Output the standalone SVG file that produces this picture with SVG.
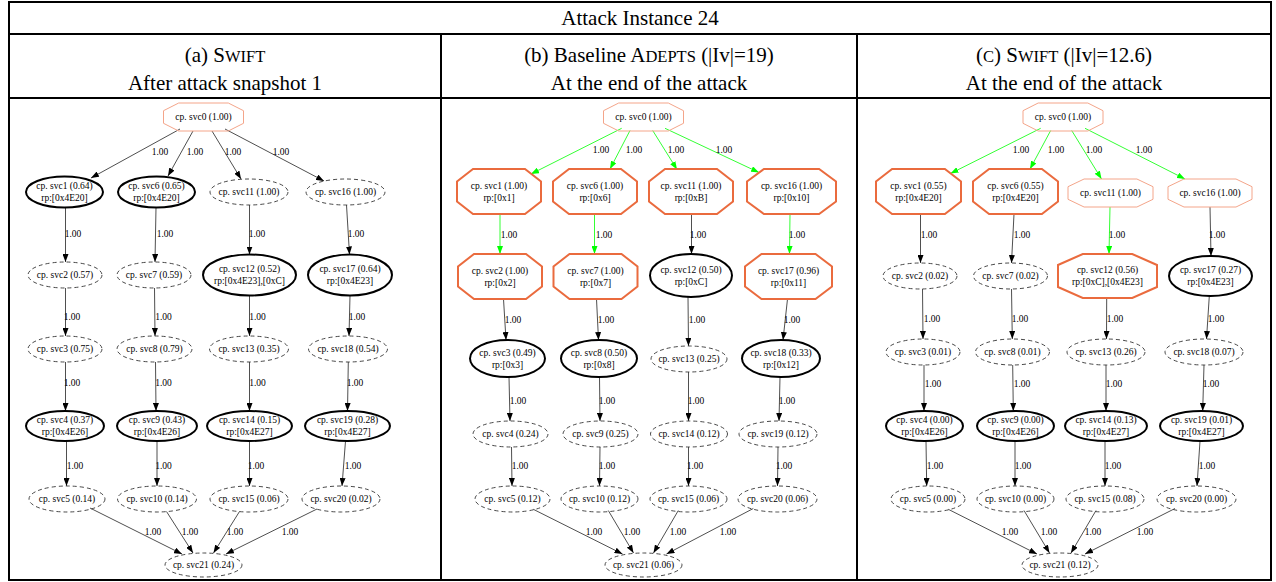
<svg xmlns="http://www.w3.org/2000/svg" width="1276" height="582" viewBox="0 0 1276 582">
<defs>
<marker id="ab" markerWidth="8" markerHeight="6" refX="8" refY="3" orient="auto" markerUnits="userSpaceOnUse"><path d="M0,0 L8,3 L0,6 z" fill="#000"/></marker>
<marker id="ag" markerWidth="8" markerHeight="6" refX="8" refY="3" orient="auto" markerUnits="userSpaceOnUse"><path d="M0,0 L8,3 L0,6 z" fill="#00ff00"/></marker>
</defs>
<style>
text{font-family:"Liberation Serif","Times New Roman",serif;fill:#000}
.n{font-size:9.5px;text-anchor:middle}
.h{font-size:21px;text-anchor:middle}
.sc{font-size:16.5px}
.dash{fill:none;stroke:#333;stroke-width:0.9;stroke-dasharray:4 3}
.bold{fill:none;stroke:#000;stroke-width:2}
.octL{fill:none;stroke:#f4a58a;stroke-width:1}
.octB{fill:none;stroke:#ea6b3e;stroke-width:2}
.e{stroke:#222;stroke-width:0.8;fill:none;marker-end:url(#ab)}
.g{stroke:#00ff00;stroke-width:0.8;fill:none;marker-end:url(#ag)}
.grid{stroke:#000;stroke-width:2;fill:none}
</style>
<rect width="1276" height="582" fill="#fff"/>
<g id="table">
<rect class="grid" x="9" y="2" width="1262" height="578"/>
<line class="grid" x1="9" y1="34" x2="1271" y2="34"/>
<line class="grid" x1="9" y1="98" x2="1271" y2="98"/>
<line class="grid" x1="441" y1="34" x2="441" y2="580"/>
<line class="grid" x1="857" y1="34" x2="857" y2="580"/>
<text class="h" x="640" y="25">Attack Instance 24</text>
<text class="h" x="225" y="62">(a) S<tspan class="sc">WIFT</tspan></text>
<text class="h" x="225" y="90">After attack snapshot 1</text>
<text class="h" x="649" y="62">(b) Baseline A<tspan class="sc">DEPTS</tspan> (|Iv|=19)</text>
<text class="h" x="649" y="90">At the end of the attack</text>
<text class="h" x="1064" y="62">(<tspan class="sc">C</tspan>) S<tspan class="sc">WIFT</tspan> (|Iv|=12.6)</text>
<text class="h" x="1064" y="90">At the end of the attack</text>
</g>

<g id="connectors">
<!-- panel a -->
<path class="e" d="M180,129 L91,178"/>
<path class="e" d="M193,131 L168,176"/>
<path class="e" d="M212,131 L241,179"/>
<path class="e" d="M225,129 L324,181"/>
<path class="e" d="M65.5,207.5 L65.5,262"/>
<path class="e" d="M65.5,288 L65.5,336"/>
<path class="e" d="M65.5,362 L65.5,411"/>
<path class="e" d="M66.5,441 L66.5,486"/>
<path class="e" d="M156,207.5 L155,262"/>
<path class="e" d="M154.5,288 L155,336"/>
<path class="e" d="M155.5,362 L156,411"/>
<path class="e" d="M157,441 L157,486"/>
<path class="e" d="M249.5,205 L249.5,254.5"/>
<path class="e" d="M249.5,295.5 L249.5,336"/>
<path class="e" d="M249.5,362 L249.5,411"/>
<path class="e" d="M249.5,441 L249.5,486"/>
<path class="e" d="M346.5,205 L349.5,254.5"/>
<path class="e" d="M350,295.5 L349,336"/>
<path class="e" d="M348.3,362 L347.5,411"/>
<path class="e" d="M345.5,441 L342,486"/>
<path class="e" d="M90,508 L182,554"/>
<path class="e" d="M166.5,511.5 L193,553"/>
<path class="e" d="M239.5,511.5 L213.5,553"/>
<path class="e" d="M317,509 L226,554"/>
<g class="n">
<text x="160" y="155.3">1.00</text><text x="195" y="155.3">1.00</text><text x="233" y="155.3">1.00</text><text x="281" y="155.3">1.00</text>
<text x="73" y="237.3">1.00</text><text x="165" y="237.3">1.00</text><text x="257" y="237.3">1.00</text><text x="356" y="237.3">1.00</text>
<text x="72" y="320.3">1.00</text><text x="163.5" y="320.3">1.00</text><text x="257.5" y="320.3">1.00</text><text x="357" y="320.3">1.00</text>
<text x="72" y="386.3">1.00</text><text x="163.5" y="386.3">1.00</text><text x="257.5" y="386.3">1.00</text><text x="355" y="386.3">1.00</text>
<text x="75" y="469.3">1.00</text><text x="163.5" y="469.3">1.00</text><text x="256" y="469.3">1.00</text><text x="353" y="469.3">1.00</text>
<text x="153" y="535.3">1.00</text><text x="190" y="535.3">1.00</text><text x="235" y="535.3">1.00</text><text x="290" y="535.3">1.00</text>
</g>
<!-- panel b -->
<path class="g" d="M621.7,128.3 L531,174"/>
<path class="g" d="M630,130.5 L610,169"/>
<path class="g" d="M652.7,130.5 L677,169.5"/>
<path class="g" d="M665,128.3 L759,172.5"/>
<path class="g" d="M500,214 L500,254"/>
<path class="g" d="M594.5,214 L594.5,254"/>
<path class="e" d="M691.5,214 L691.5,254"/>
<path class="g" d="M790,214 L789.5,254"/>
<path class="e" d="M503.5,299 L506,340"/>
<path class="e" d="M596.5,299 L598.5,340"/>
<path class="e" d="M688,297 L688.5,346"/>
<path class="e" d="M787.5,299 L783,340"/>
<path class="e" d="M509,377 L510,421"/>
<path class="e" d="M599.5,377 L600,421"/>
<path class="e" d="M688.5,372 L688.5,421"/>
<path class="e" d="M780,377 L779,421"/>
<path class="e" d="M511.5,447 L512,486"/>
<path class="e" d="M600,447 L599.5,486"/>
<path class="e" d="M688.5,447 L688.5,486"/>
<path class="e" d="M778,447 L777.5,486"/>
<path class="e" d="M533.3,509.3 L622.5,554"/>
<path class="e" d="M608.3,510.5 L633.5,553"/>
<path class="e" d="M678.3,510.5 L653.5,553"/>
<path class="e" d="M753.3,508.5 L666.5,554"/>
<g class="n">
<text x="601" y="153.3">1.00</text><text x="634" y="153.3">1.00</text><text x="676" y="153.3">1.00</text><text x="724" y="153.3">1.00</text>
<text x="509" y="238.3">1.00</text><text x="604" y="238.3">1.00</text><text x="698" y="238.3">1.00</text><text x="797" y="238.3">1.00</text>
<text x="513" y="323.3">1.00</text><text x="606" y="323.3">1.00</text><text x="697" y="323.3">1.00</text><text x="792" y="323.3">1.00</text>
<text x="518" y="404.3">1.00</text><text x="607" y="404.3">1.00</text><text x="696" y="404.3">1.00</text><text x="787" y="404.3">1.00</text>
<text x="520" y="469.3">1.00</text><text x="607" y="469.3">1.00</text><text x="695" y="469.3">1.00</text><text x="784" y="469.3">1.00</text>
<text x="594" y="535.3">1.00</text><text x="632" y="535.3">1.00</text><text x="678" y="535.3">1.00</text><text x="728" y="535.3">1.00</text>
</g>
<!-- panel c -->
<path class="g" d="M1040.7,128.3 L950.5,173.5"/>
<path class="g" d="M1050.7,130.5 L1030,169"/>
<path class="g" d="M1071.7,130.5 L1101.5,179"/>
<path class="g" d="M1085,128.3 L1185,179"/>
<path class="e" d="M920.5,214 L920.5,263"/>
<path class="e" d="M1014,214 L1011.5,263"/>
<path class="g" d="M1110,207 L1109,254"/>
<path class="e" d="M1210,207 L1211,256"/>
<path class="e" d="M922.5,289 L923,339"/>
<path class="e" d="M1011.5,289 L1012.3,339"/>
<path class="e" d="M1106.7,298 L1106.5,339"/>
<path class="e" d="M1209.3,296 L1206.5,339"/>
<path class="e" d="M924,365 L924,411"/>
<path class="e" d="M1012.7,365 L1013.3,411"/>
<path class="e" d="M1106,365 L1106,411"/>
<path class="e" d="M1204,365 L1202.7,411"/>
<path class="e" d="M926,441 L926.7,486"/>
<path class="e" d="M1015,441 L1015,486"/>
<path class="e" d="M1105,441 L1105,486"/>
<path class="e" d="M1200,441 L1197,486"/>
<path class="e" d="M948.3,509.3 L1037,554"/>
<path class="e" d="M1024,510.5 L1049.5,553"/>
<path class="e" d="M1096,510.5 L1071,553"/>
<path class="e" d="M1175,508.5 L1085,554"/>
<g class="n">
<text x="1021" y="153.3">1.00</text><text x="1056" y="153.3">1.00</text><text x="1094" y="153.3">1.00</text><text x="1144" y="153.3">1.00</text>
<text x="929" y="238.3">1.00</text><text x="1022" y="238.3">1.00</text><text x="1117" y="238.3">1.00</text><text x="1217" y="238.3">1.00</text>
<text x="932" y="322.3">1.00</text><text x="1020" y="322.3">1.00</text><text x="1115" y="322.3">1.00</text><text x="1216" y="322.3">1.00</text>
<text x="933" y="387.3">1.00</text><text x="1022" y="387.3">1.00</text><text x="1114" y="387.3">1.00</text><text x="1211" y="387.3">1.00</text>
<text x="935" y="469.3">1.00</text><text x="1023" y="469.3">1.00</text><text x="1113" y="469.3">1.00</text><text x="1207" y="469.3">1.00</text>
<text x="1010" y="535.3">1.00</text><text x="1049" y="535.3">1.00</text><text x="1093" y="535.3">1.00</text><text x="1145" y="535.3">1.00</text>
</g>
</g>

<!-- ===== Panel a nodes ===== -->
<g id="a-svc0"><polygon class="octL" points="178.7,103 228.3,103 243.5,110.7 243.5,123.3 228.3,131 178.7,131 163.5,123.3 163.5,110.7"/><text class="n" x="203.5" y="120.3">cp. svc0 (1.00)</text></g>
<g id="a-svc1"><ellipse class="bold" cx="64.5" cy="192" rx="38.5" ry="15.5"/><text class="n" x="64.5" y="189.3">cp. svc1 (0.64)</text><text class="n" x="64.5" y="201.3">rp:[0x4E20]</text></g>
<g id="a-svc6"><ellipse class="bold" cx="156.5" cy="192" rx="38.5" ry="15.5"/><text class="n" x="156.5" y="189.3">cp. svc6 (0.65)</text><text class="n" x="156.5" y="201.3">rp:[0x4E20]</text></g>
<g id="a-svc11"><ellipse class="dash" cx="249" cy="192" rx="39" ry="13"/><text class="n" x="249" y="195.3">cp. svc11 (1.00)</text></g>
<g id="a-svc16"><ellipse class="dash" cx="345.5" cy="192" rx="39.5" ry="13"/><text class="n" x="345.5" y="195.3">cp. svc16 (1.00)</text></g>
<g id="a-svc2"><ellipse class="dash" cx="65" cy="275" rx="37" ry="13"/><text class="n" x="65" y="278.3">cp. svc2 (0.57)</text></g>
<g id="a-svc7"><ellipse class="dash" cx="154" cy="275" rx="37" ry="13"/><text class="n" x="154" y="278.3">cp. svc7 (0.59)</text></g>
<g id="a-svc12"><ellipse class="bold" cx="249.5" cy="275" rx="46.5" ry="20.5"/><text class="n" x="249.5" y="272.3">cp. svc12 (0.52)</text><text class="n" x="249.5" y="284.3">rp:[0x4E23],[0xC]</text></g>
<g id="a-svc17"><ellipse class="bold" cx="350" cy="275" rx="42" ry="20.5"/><text class="n" x="350" y="272.3">cp. svc17 (0.64)</text><text class="n" x="350" y="284.3">rp:[0x4E23]</text></g>
<g id="a-svc3"><ellipse class="dash" cx="65" cy="349" rx="37" ry="13"/><text class="n" x="65" y="352.3">cp. svc3 (0.75)</text></g>
<g id="a-svc8"><ellipse class="dash" cx="154.5" cy="349" rx="37.5" ry="13"/><text class="n" x="154.5" y="352.3">cp. svc8 (0.79)</text></g>
<g id="a-svc13"><ellipse class="dash" cx="249" cy="349" rx="39.5" ry="13"/><text class="n" x="249" y="352.3">cp. svc13 (0.35)</text></g>
<g id="a-svc18"><ellipse class="dash" cx="348" cy="349" rx="39.5" ry="13"/><text class="n" x="348" y="352.3">cp. svc18 (0.54)</text></g>
<g id="a-svc4"><ellipse class="bold" cx="65" cy="426" rx="39" ry="15"/><text class="n" x="65" y="423.3">cp. svc4 (0.37)</text><text class="n" x="65" y="435.3">rp:[0x4E26]</text></g>
<g id="a-svc9"><ellipse class="bold" cx="157" cy="426" rx="40" ry="15"/><text class="n" x="157" y="423.3">cp. svc9 (0.43)</text><text class="n" x="157" y="435.3">rp:[0x4E26]</text></g>
<g id="a-svc14"><ellipse class="bold" cx="249.5" cy="426" rx="42.5" ry="15"/><text class="n" x="249.5" y="423.3">cp. svc14 (0.15)</text><text class="n" x="249.5" y="435.3">rp:[0x4E27]</text></g>
<g id="a-svc19"><ellipse class="bold" cx="347.5" cy="426" rx="42.5" ry="15"/><text class="n" x="347.5" y="423.3">cp. svc19 (0.28)</text><text class="n" x="347.5" y="435.3">rp:[0x4E27]</text></g>
<g id="a-svc5"><ellipse class="dash" cx="67" cy="499" rx="38" ry="13"/><text class="n" x="67" y="502.3">cp. svc5 (0.14)</text></g>
<g id="a-svc10"><ellipse class="dash" cx="157" cy="499" rx="39.5" ry="13"/><text class="n" x="157" y="502.3">cp. svc10 (0.14)</text></g>
<g id="a-svc15"><ellipse class="dash" cx="249" cy="499" rx="39" ry="13"/><text class="n" x="249" y="502.3">cp. svc15 (0.06)</text></g>
<g id="a-svc20"><ellipse class="dash" cx="341" cy="499" rx="39" ry="13"/><text class="n" x="341" y="502.3">cp. svc20 (0.02)</text></g>
<g id="a-svc21"><ellipse class="dash" cx="203.5" cy="565" rx="38.5" ry="12"/><text class="n" x="203.5" y="568.3">cp. svc21 (0.24)</text></g>

<!-- ===== Panel b nodes ===== -->
<g id="b-svc0"><polygon class="octL" points="618.7,103 668.3,103 683.5,110.7 683.5,123.3 668.3,131 618.7,131 603.5,123.3 603.5,110.7"/><text class="n" x="643.5" y="120.3">cp. svc0 (1.00)</text></g>
<g id="b-svc1"><polygon class="octB" points="473,169 525,169 541,181.4 541,201.6 525,214 473,214 457,201.6 457,181.4"/><text class="n" x="499" y="189.3">cp. svc1 (1.00)</text><text class="n" x="499" y="201.3">rp:[0x1]</text></g>
<g id="b-svc6"><polygon class="octB" points="569,169 621,169 637,181.4 637,201.6 621,214 569,214 553,201.6 553,181.4"/><text class="n" x="595" y="189.3">cp. svc6 (1.00)</text><text class="n" x="595" y="201.3">rp:[0x6]</text></g>
<g id="b-svc11"><polygon class="octB" points="665,169 717,169 733,181.4 733,201.6 717,214 665,214 649,201.6 649,181.4"/><text class="n" x="691" y="189.3">cp. svc11 (1.00)</text><text class="n" x="691" y="201.3">rp:[0xB]</text></g>
<g id="b-svc16"><polygon class="octB" points="763.9,169 819.1,169 836,181.4 836,201.6 819.1,214 763.9,214 747,201.6 747,181.4"/><text class="n" x="791.5" y="189.3">cp. svc16 (1.00)</text><text class="n" x="791.5" y="201.3">rp:[0x10]</text></g>
<g id="b-svc2"><polygon class="octB" points="474,254 526,254 542,266.4 542,286.6 526,299 474,299 458,286.6 458,266.4"/><text class="n" x="500" y="274.3">cp. svc2 (1.00)</text><text class="n" x="500" y="286.3">rp:[0x2]</text></g>
<g id="b-svc7"><polygon class="octB" points="569.5,254 621.5,254 637.5,266.4 637.5,286.6 621.5,299 569.5,299 553.5,286.6 553.5,266.4"/><text class="n" x="595.5" y="274.3">cp. svc7 (1.00)</text><text class="n" x="595.5" y="286.3">rp:[0x7]</text></g>
<g id="b-svc12"><ellipse class="bold" cx="691" cy="275.5" rx="41" ry="21.5"/><text class="n" x="691" y="272.8">cp. svc12 (0.50)</text><text class="n" x="691" y="284.8">rp:[0xC]</text></g>
<g id="b-svc17"><polygon class="octB" points="761.5,254 815.5,254 832,266.4 832,286.6 815.5,299 761.5,299 745,286.6 745,266.4"/><text class="n" x="788.5" y="274.3">cp. svc17 (0.96)</text><text class="n" x="788.5" y="286.3">rp:[0x11]</text></g>
<g id="b-svc3"><ellipse class="bold" cx="507.5" cy="358.5" rx="37.5" ry="18.5"/><text class="n" x="507.5" y="355.8">cp. svc3 (0.49)</text><text class="n" x="507.5" y="367.8">rp:[0x3]</text></g>
<g id="b-svc8"><ellipse class="bold" cx="599" cy="358.5" rx="38" ry="18.5"/><text class="n" x="599" y="355.8">cp. svc8 (0.50)</text><text class="n" x="599" y="367.8">rp:[0x8]</text></g>
<g id="b-svc13"><ellipse class="dash" cx="689" cy="359" rx="38" ry="13"/><text class="n" x="689" y="362.3">cp. svc13 (0.25)</text></g>
<g id="b-svc18"><ellipse class="bold" cx="781" cy="358.5" rx="39" ry="18.5"/><text class="n" x="781" y="355.8">cp. svc18 (0.33)</text><text class="n" x="781" y="367.8">rp:[0x12]</text></g>
<g id="b-svc4"><ellipse class="dash" cx="510.5" cy="434" rx="37.5" ry="13"/><text class="n" x="510.5" y="437.3">cp. svc4 (0.24)</text></g>
<g id="b-svc9"><ellipse class="dash" cx="600.5" cy="434" rx="37.5" ry="13"/><text class="n" x="600.5" y="437.3">cp. svc9 (0.25)</text></g>
<g id="b-svc14"><ellipse class="dash" cx="689" cy="434" rx="38.5" ry="13"/><text class="n" x="689" y="437.3">cp. svc14 (0.12)</text></g>
<g id="b-svc19"><ellipse class="dash" cx="778" cy="434" rx="39" ry="13"/><text class="n" x="778" y="437.3">cp. svc19 (0.12)</text></g>
<g id="b-svc5"><ellipse class="dash" cx="512.5" cy="499" rx="37.5" ry="13"/><text class="n" x="512.5" y="502.3">cp. svc5 (0.12)</text></g>
<g id="b-svc10"><ellipse class="dash" cx="599.5" cy="499" rx="38.5" ry="13"/><text class="n" x="599.5" y="502.3">cp. svc10 (0.12)</text></g>
<g id="b-svc15"><ellipse class="dash" cx="688.5" cy="499" rx="38.5" ry="13"/><text class="n" x="688.5" y="502.3">cp. svc15 (0.06)</text></g>
<g id="b-svc20"><ellipse class="dash" cx="777.5" cy="499" rx="39.5" ry="13"/><text class="n" x="777.5" y="502.3">cp. svc20 (0.06)</text></g>
<g id="b-svc21"><ellipse class="dash" cx="643.5" cy="565" rx="38.5" ry="12"/><text class="n" x="643.5" y="568.3">cp. svc21 (0.06)</text></g>

<!-- ===== Panel c nodes ===== -->
<g id="c-svc0"><polygon class="octL" points="1038.2,103 1087.8,103 1103,110.7 1103,123.3 1087.8,131 1038.2,131 1023,123.3 1023,110.7"/><text class="n" x="1063" y="120.3">cp. svc0 (1.00)</text></g>
<g id="c-svc1"><polygon class="octB" points="892.1,169 944.9,169 961,181.4 961,201.6 944.9,214 892.1,214 876,201.6 876,181.4"/><text class="n" x="918.5" y="189.3">cp. svc1 (0.55)</text><text class="n" x="918.5" y="201.3">rp:[0x4E20]</text></g>
<g id="c-svc6"><polygon class="octB" points="989.1,169 1041.9,169 1058,181.4 1058,201.6 1041.9,214 989.1,214 973,201.6 973,181.4"/><text class="n" x="1015.5" y="189.3">cp. svc6 (0.55)</text><text class="n" x="1015.5" y="201.3">rp:[0x4E20]</text></g>
<g id="c-svc11"><polygon class="octL" points="1084.1,179 1136.9,179 1153,186.7 1153,199.3 1136.9,207 1084.1,207 1068,199.3 1068,186.7"/><text class="n" x="1110.5" y="196.3">cp. svc11 (1.00)</text></g>
<g id="c-svc16"><polygon class="octL" points="1184,179 1236,179 1252,186.7 1252,199.3 1236,207 1184,207 1168,199.3 1168,186.7"/><text class="n" x="1210" y="196.3">cp. svc16 (1.00)</text></g>
<g id="c-svc2"><ellipse class="dash" cx="920" cy="276" rx="37" ry="13"/><text class="n" x="920" y="279.3">cp. svc2 (0.02)</text></g>
<g id="c-svc7"><ellipse class="dash" cx="1010.5" cy="276" rx="37" ry="13"/><text class="n" x="1010.5" y="279.3">cp. svc7 (0.02)</text></g>
<g id="c-svc12"><polygon class="octB" points="1082.75,254 1132.25,254 1157,265 1157,287 1132.25,298 1082.75,298 1058,287 1058,265"/><text class="n" x="1107.5" y="273.3">cp. svc12 (0.56)</text><text class="n" x="1107.5" y="285.3">rp:[0xC],[0x4E23]</text></g>
<g id="c-svc17"><ellipse class="bold" cx="1210.5" cy="276" rx="41.5" ry="20"/><text class="n" x="1210.5" y="273.3">cp. svc17 (0.27)</text><text class="n" x="1210.5" y="285.3">rp:[0x4E23]</text></g>
<g id="c-svc3"><ellipse class="dash" cx="923" cy="352" rx="37" ry="13"/><text class="n" x="923" y="355.3">cp. svc3 (0.01)</text></g>
<g id="c-svc8"><ellipse class="dash" cx="1012.5" cy="352" rx="37" ry="13"/><text class="n" x="1012.5" y="355.3">cp. svc8 (0.01)</text></g>
<g id="c-svc13"><ellipse class="dash" cx="1106" cy="352" rx="39" ry="13"/><text class="n" x="1106" y="355.3">cp. svc13 (0.26)</text></g>
<g id="c-svc18"><ellipse class="dash" cx="1204" cy="352" rx="39" ry="13"/><text class="n" x="1204" y="355.3">cp. svc18 (0.07)</text></g>
<g id="c-svc4"><ellipse class="bold" cx="924.5" cy="426" rx="38.5" ry="15"/><text class="n" x="924.5" y="423.3">cp. svc4 (0.00)</text><text class="n" x="924.5" y="435.3">rp:[0x4E26]</text></g>
<g id="c-svc9"><ellipse class="bold" cx="1015.5" cy="426" rx="38.5" ry="15"/><text class="n" x="1015.5" y="423.3">cp. svc9 (0.00)</text><text class="n" x="1015.5" y="435.3">rp:[0x4E26]</text></g>
<g id="c-svc14"><ellipse class="bold" cx="1106" cy="426" rx="41" ry="15"/><text class="n" x="1106" y="423.3">cp. svc14 (0.13)</text><text class="n" x="1106" y="435.3">rp:[0x4E27]</text></g>
<g id="c-svc19"><ellipse class="bold" cx="1201.5" cy="426" rx="41.5" ry="15"/><text class="n" x="1201.5" y="423.3">cp. svc19 (0.01)</text><text class="n" x="1201.5" y="435.3">rp:[0x4E27]</text></g>
<g id="c-svc5"><ellipse class="dash" cx="928" cy="499" rx="37" ry="13"/><text class="n" x="928" y="502.3">cp. svc5 (0.00)</text></g>
<g id="c-svc10"><ellipse class="dash" cx="1015.5" cy="499" rx="38.5" ry="13"/><text class="n" x="1015.5" y="502.3">cp. svc10 (0.00)</text></g>
<g id="c-svc15"><ellipse class="dash" cx="1105" cy="499" rx="39" ry="13"/><text class="n" x="1105" y="502.3">cp. svc15 (0.08)</text></g>
<g id="c-svc20"><ellipse class="dash" cx="1196.5" cy="499" rx="39.5" ry="13"/><text class="n" x="1196.5" y="502.3">cp. svc20 (0.00)</text></g>
<g id="c-svc21"><ellipse class="dash" cx="1060" cy="565" rx="38" ry="12"/><text class="n" x="1060" y="568.3">cp. svc21 (0.12)</text></g>
</svg>
